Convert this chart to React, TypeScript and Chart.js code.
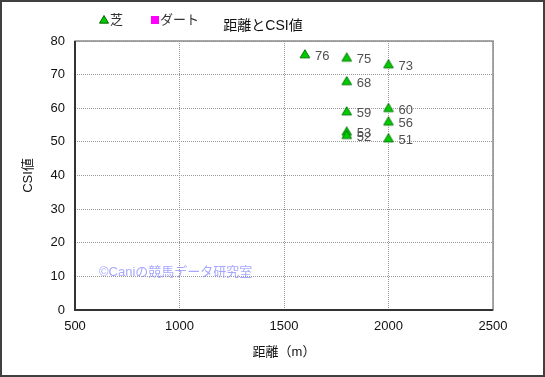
import React, { useEffect, useRef } from "react";
import { Chart, registerables } from "chart.js";

Chart.register(...registerables);

const turfDistances = [1600, 1800, 1800, 1800, 1800, 1800, 2000, 2000, 2000, 2000];
const turfCSI = [76, 75, 68, 59, 53, 52, 73, 60, 56, 51];
const dirtDistances: number[] = [];
const dirtCSI: number[] = [];
const seriesNames = ["芝", "ダート"];
const chartTitle = "距離とCSI値";
const xTitle = "距離（m）";
const yTitle = "CSI値";
const watermark = "©Caniの競馬データ研究室";

const FONT = "'Liberation Sans', 'Noto Sans CJK JP', sans-serif";

function triangle(ctx: CanvasRenderingContext2D, x: number, y: number, r: number) {
  ctx.beginPath();
  ctx.moveTo(x, y - r);
  ctx.lineTo(x + r, y + r * 0.7);
  ctx.lineTo(x - r, y + r * 0.7);
  ctx.closePath();
}

const decor = {
  id: "decor",
  beforeDraw(chart: any) {
    const ctx = chart.ctx;
    ctx.save();
    ctx.fillStyle = "#ffffff";
    ctx.fillRect(0, 0, chart.width, chart.height);
    ctx.restore();
  },
  afterDatasetsDraw(chart: any) {
    const ctx: CanvasRenderingContext2D = chart.ctx;
    const { left, right, top, bottom } = chart.chartArea;
    ctx.save();
    // frame
    ctx.strokeStyle = "#8c8c8c";
    ctx.lineWidth = 1.5;
    ctx.strokeRect(left, top, right - left, bottom - top);
    ctx.strokeStyle = "#333333";
    ctx.lineWidth = 2;
    ctx.beginPath();
    ctx.moveTo(left, top);
    ctx.lineTo(left, bottom);
    ctx.lineTo(right, bottom);
    ctx.stroke();
    // data labels
    const meta = chart.getDatasetMeta(0);
    ctx.fillStyle = "#505050";
    ctx.font = `13px ${FONT}`;
    ctx.textAlign = "left";
    ctx.textBaseline = "middle";
    meta.data.forEach((pt: any, i: number) => {
      ctx.fillText(String(turfCSI[i]), pt.x + 10, pt.y + 2);
    });
    // watermark
    ctx.fillStyle = "rgba(130,130,255,0.7)";
    ctx.font = `13px ${FONT}`;
    ctx.fillText(watermark, 99, 272);
    // legend
    ctx.fillStyle = "#00cc00";
    ctx.strokeStyle = "#006600";
    ctx.lineWidth = 1;
    triangle(ctx, 104, 20, 4.5);
    ctx.fill();
    ctx.stroke();
    ctx.fillStyle = "#333333";
    ctx.font = `13px ${FONT}`;
    ctx.fillText(seriesNames[0], 110, 20);
    ctx.fillStyle = "#ff00ff";
    ctx.fillRect(151, 16, 8, 8);
    ctx.fillStyle = "#333333";
    ctx.fillText(seriesNames[1], 160, 20);
    // title
    ctx.textAlign = "center";
    ctx.font = `14px ${FONT}`;
    ctx.fillStyle = "#111111";
    ctx.fillText(chartTitle, 263, 26);
    // outer border
    ctx.strokeStyle = "#404040";
    ctx.lineWidth = 2;
    ctx.strokeRect(1, 1, chart.width - 2, chart.height - 2);
    ctx.restore();
  },
};

export default function App() {
  const ref = useRef<HTMLCanvasElement>(null);
  useEffect(() => {
    if (!ref.current) return;
    const pointCanvas = document.createElement("canvas");
    pointCanvas.width = 12;
    pointCanvas.height = 11;
    const pc = pointCanvas.getContext("2d")!;
    pc.fillStyle = "#00cc00";
    pc.strokeStyle = "#007700";
    pc.lineWidth = 1;
    triangle(pc, 6, 5.5, 4.8);
    pc.fill();
    pc.stroke();

    const chart = new Chart(ref.current, {
      type: "scatter",
      data: {
        datasets: [
          {
            label: seriesNames[0],
            data: turfDistances.map((x, i) => ({ x, y: turfCSI[i] })),
            pointStyle: pointCanvas as any,
            backgroundColor: "#00cc00",
            borderColor: "#007700",
          },
          {
            label: seriesNames[1],
            data: dirtDistances.map((x, i) => ({ x, y: dirtCSI[i] })),
            pointStyle: "rect",
            backgroundColor: "#ff00ff",
            borderColor: "#ff00ff",
          },
        ],
      },
      plugins: [decor],
      options: {
        responsive: false,
        animation: false,
        layout: { padding: { left: 17, top: 41, right: 52, bottom: 13 } },
        plugins: {
          legend: { display: false },
          title: { display: false },
          tooltip: { enabled: false },
        },
        scales: {
          x: {
            type: "linear",
            min: 500,
            max: 2500,
            afterFit: (s: any) => {
              s.height = 54;
            },
            ticks: {
              stepSize: 500,
              color: "#111",
              font: { size: 13, family: FONT },
              padding: 9,
              maxRotation: 0,
              callback: (v: any) => String(v),
            },
            grid: { color: "#999999", lineWidth: 1, drawTicks: false },
            border: { display: false, dash: [1, 1] },
            title: { display: true, text: xTitle, color: "#111", font: { size: 13, family: FONT } },
          },
          y: {
            min: 0,
            max: 80,
            afterFit: (s: any) => {
              s.width = 58;
            },
            ticks: { stepSize: 10, color: "#111", font: { size: 13, family: FONT }, padding: 10 },
            grid: { color: "#999999", lineWidth: 1, drawTicks: false },
            border: { display: false, dash: [1, 1] },
            title: { display: true, text: yTitle, color: "#111", font: { size: 13, family: FONT } },
          },
        },
      },
    });
    return () => chart.destroy();
  }, []);
  return (
    <div style={{ position: "absolute", left: 0, top: 0, width: 545, height: 377 }}>
      <canvas ref={ref} width={545} height={377} />
    </div>
  );
}
